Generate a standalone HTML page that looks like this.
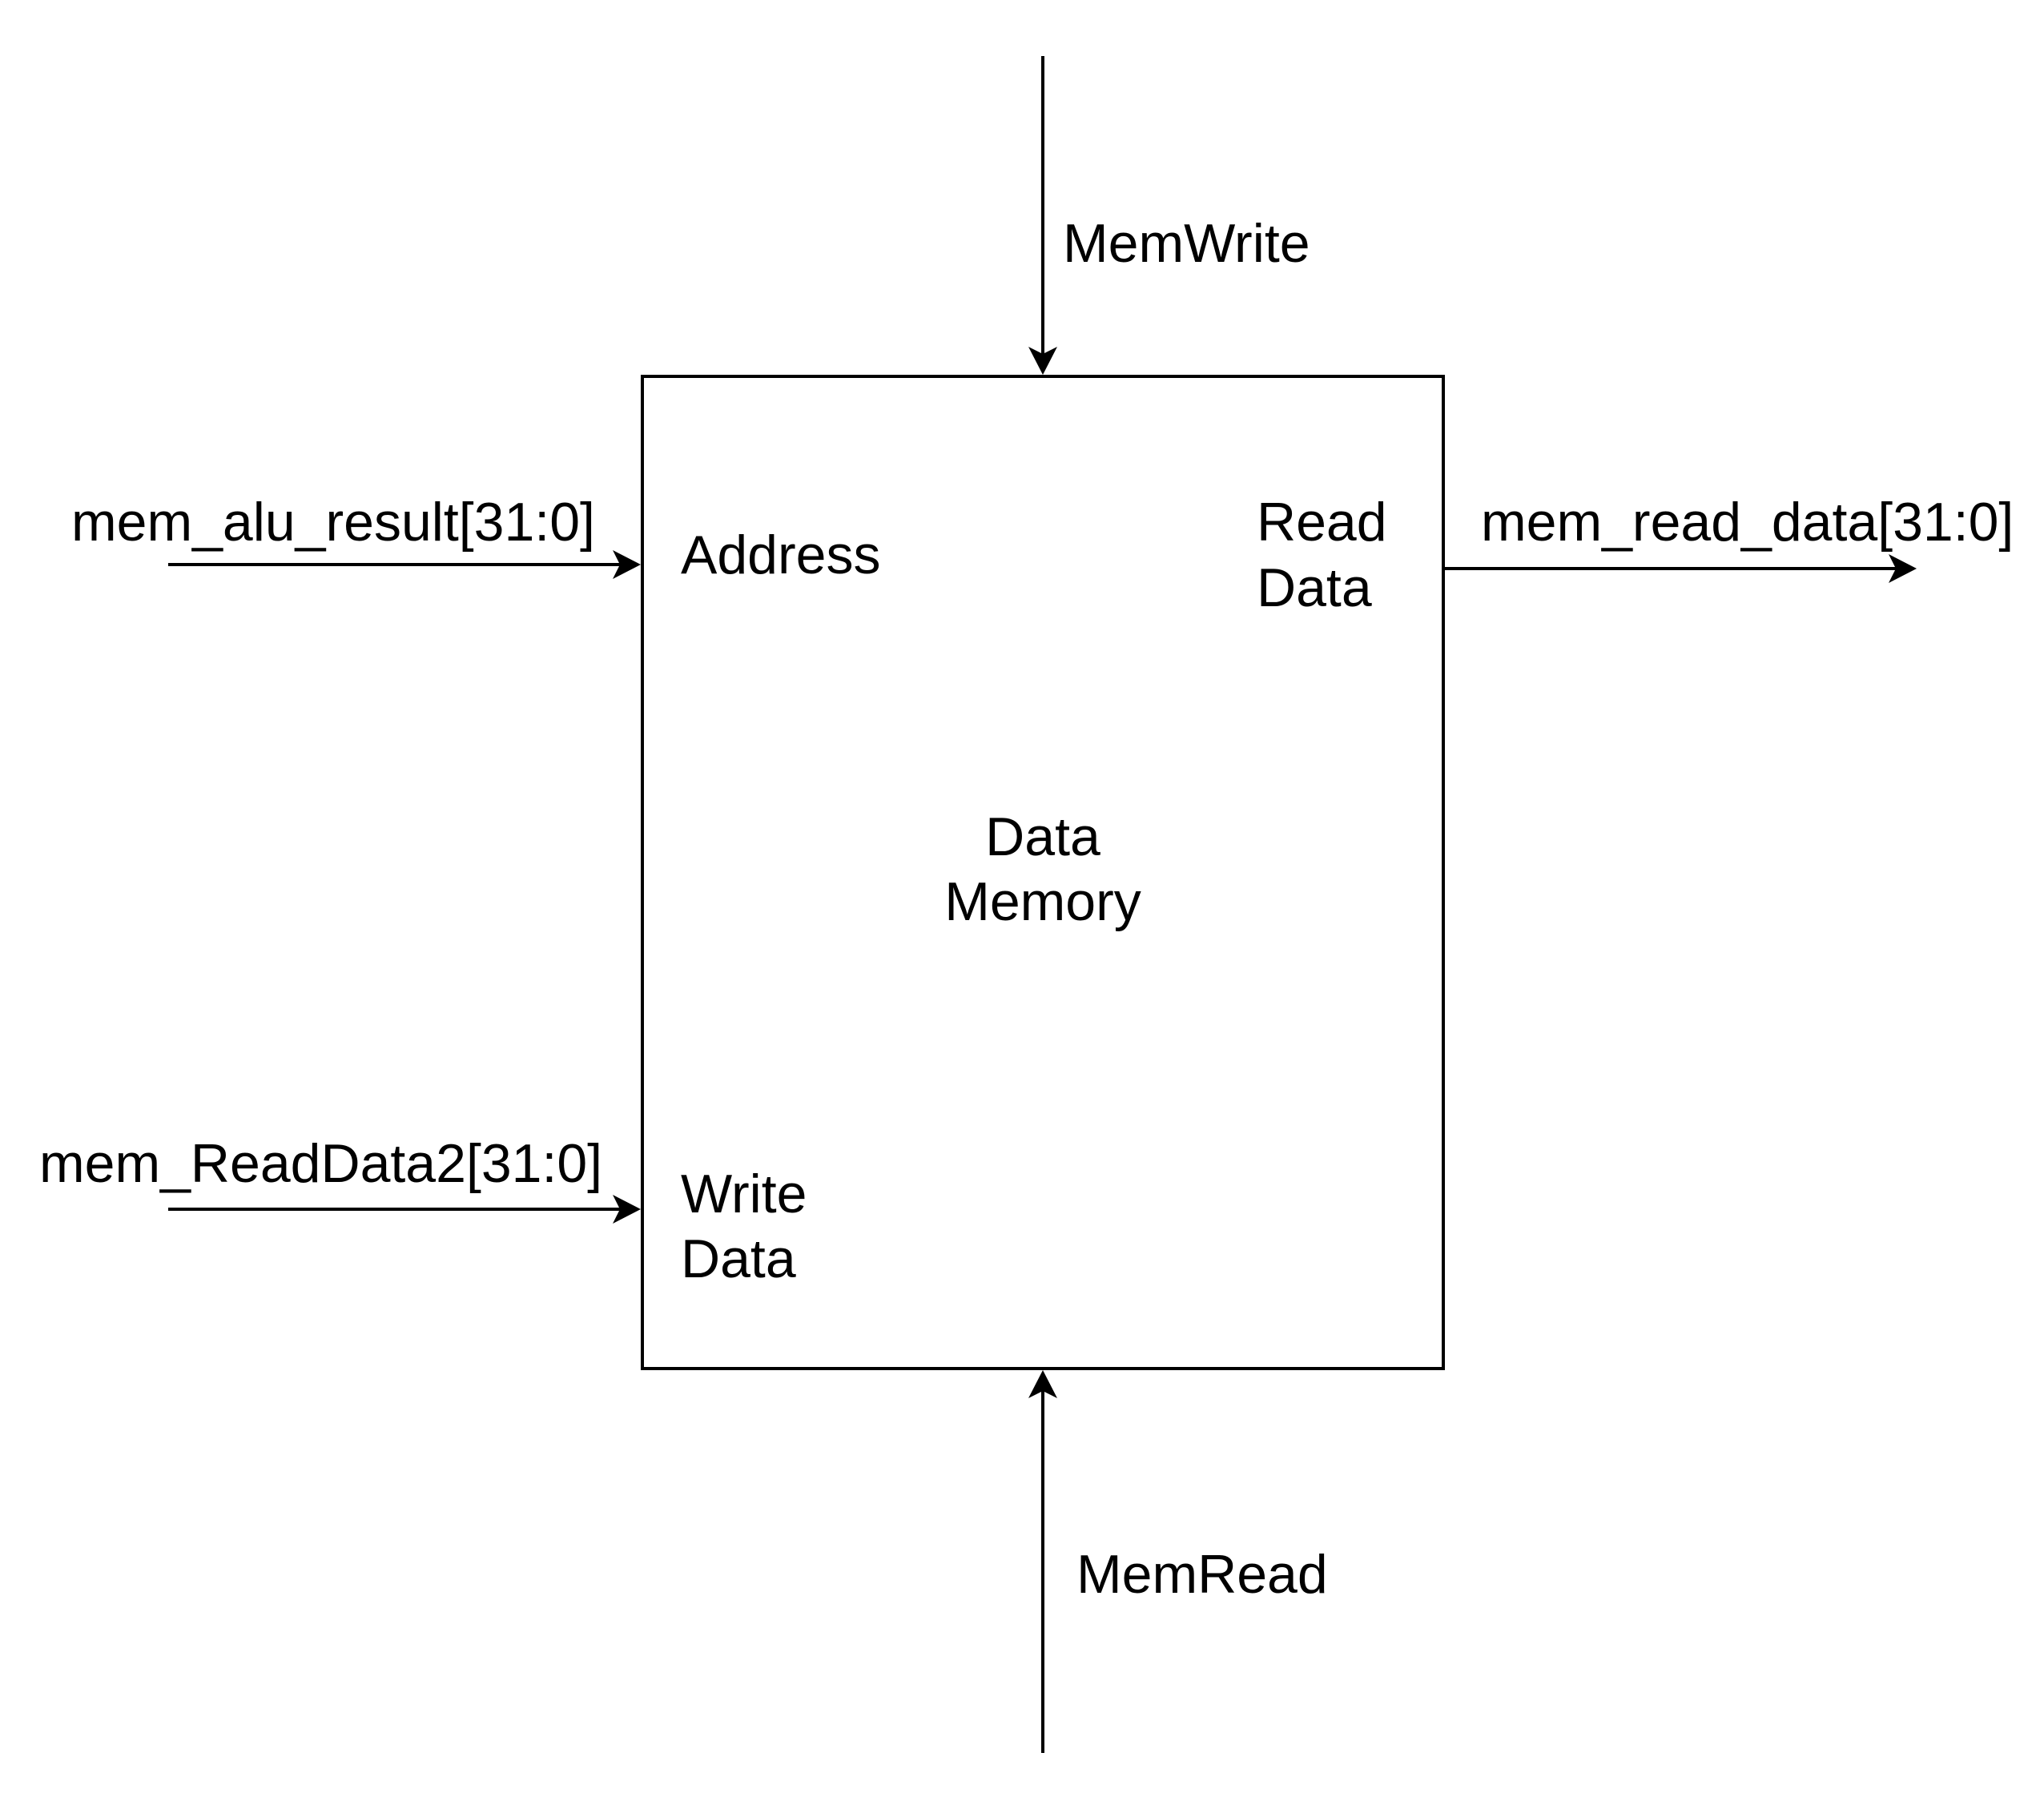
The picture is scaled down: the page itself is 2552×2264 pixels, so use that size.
<!DOCTYPE html>
<html><head><meta charset="utf-8"><style>
html,body{margin:0;padding:0;background:#fff;}
svg{display:block;}
text{font-family:"Liberation Sans",Arial,sans-serif;font-size:68px;fill:#000;}
</style></head><body>
<svg width="2552" height="2264" viewBox="0 0 2552 2264">
<rect x="802" y="470" width="1000" height="1239" fill="none" stroke="#000" stroke-width="4"/>
<g>
<line x1="1302" y1="70" x2="1302" y2="445" stroke="#000" stroke-width="4"/>
<path d="M1302 468 L1284 433 L1302 442 L1320 433 Z" fill="#000"/>
<text x="1327" y="327">MemWrite</text>
</g>
<g>
<line x1="1302" y1="2189" x2="1302" y2="1736" stroke="#000" stroke-width="4"/>
<path d="M1302 1711 L1284 1746 L1302 1737 L1320 1746 Z" fill="#000"/>
<text x="1344" y="1989">MemRead</text>
</g>
<g>
<line x1="210" y1="705" x2="775" y2="705" stroke="#000" stroke-width="4"/>
<path d="M800 705 L765 687 L774 705 L765 723 Z" fill="#000"/>
<text x="89" y="675">mem_alu_result[31:0]</text>
</g>
<g>
<line x1="210" y1="1510" x2="775" y2="1510" stroke="#000" stroke-width="4"/>
<path d="M800 1510 L765 1492 L774 1510 L765 1528 Z" fill="#000"/>
<text x="49" y="1476">mem_ReadData2[31:0]</text>
</g>
<g>
<line x1="1802" y1="710" x2="2368" y2="710" stroke="#000" stroke-width="4"/>
<path d="M2393 710 L2358 692 L2367 710 L2358 728 Z" fill="#000"/>
<text x="1849" y="675">mem_read_data[31:0]</text>
</g>
<text x="850" y="716">Address</text>
<text x="1569" y="675">Read</text>
<text x="1569" y="757">Data</text>
<text x="850" y="1514">Write</text>
<text x="850" y="1595">Data</text>
<text x="1302" y="1068" text-anchor="middle">Data</text>
<text x="1302" y="1149" text-anchor="middle">Memory</text>
</svg>
</body></html>
